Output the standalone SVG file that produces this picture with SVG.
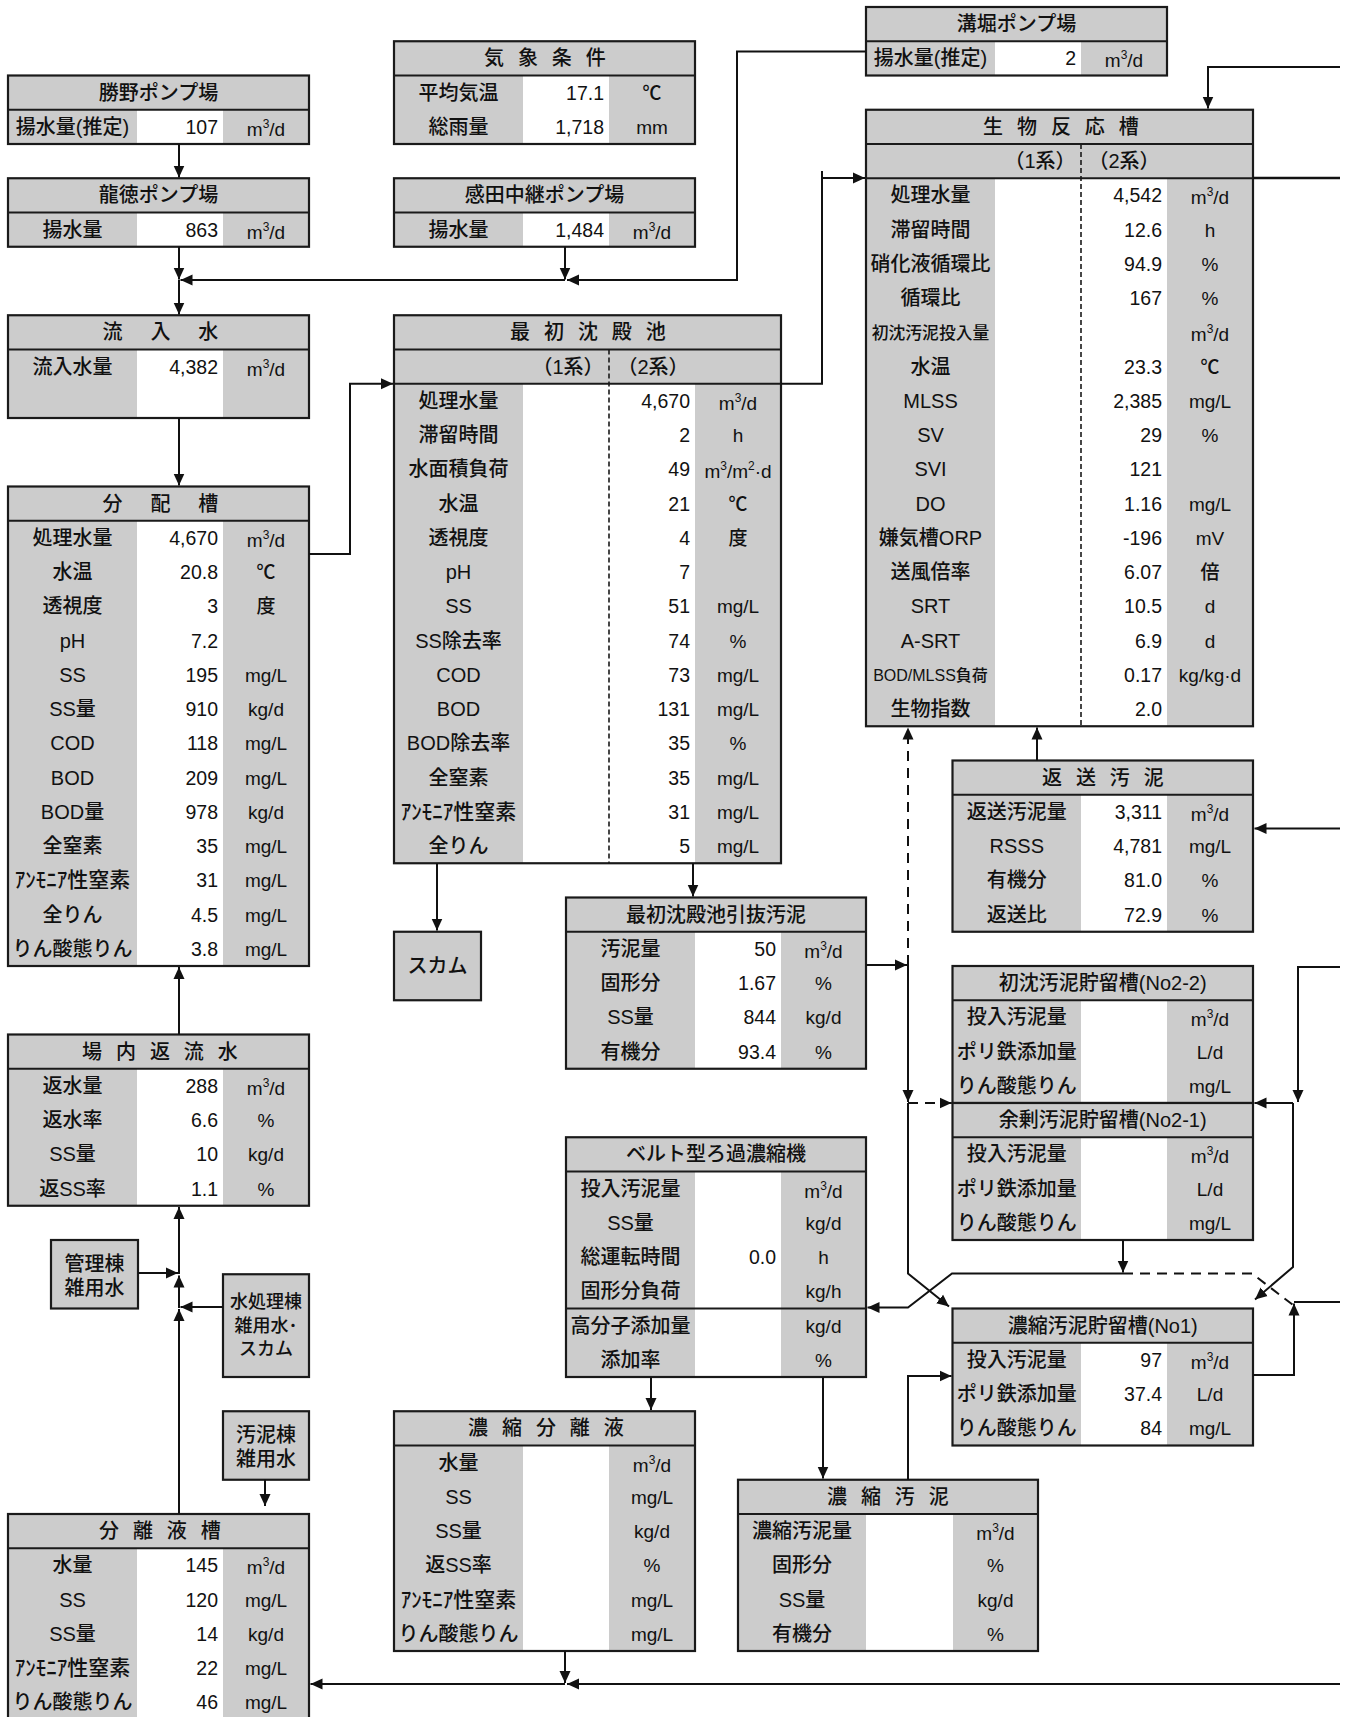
<svg xmlns="http://www.w3.org/2000/svg" width="1346" height="1717" viewBox="0 0 1346 1717">
<defs>
<style>
text{font-family:"Liberation Sans","Noto Sans CJK JP",sans-serif;font-size:20px;fill:#111;font-weight:500}
.c{text-anchor:middle}
.r{text-anchor:end}
.n{font-size:19.5px}
.u{font-size:19px;text-anchor:middle}
.sp{font-size:12px}
.sm{font-size:16.8px}
.sm2{font-size:16px}
.ak{font-size:21px}
.g{fill:#cccccc}
.w{fill:#ffffff}
.bd{fill:none;stroke:#1a1a1a;stroke-width:2.2}
.hl{stroke:#1a1a1a;stroke-width:2.2}
.dv{stroke:#1a1a1a;stroke-width:1.6;stroke-dasharray:5 3}
.cn{fill:none;stroke:#111;stroke-width:2}
.ds{stroke-dasharray:10 7}
.s4{letter-spacing:4.2px}
.s11{letter-spacing:11.2px}
.f18{font-size:18px}
</style>
<marker id="ah" markerUnits="userSpaceOnUse" markerWidth="13" markerHeight="12" refX="12" refY="6" orient="auto" viewBox="0 0 13 12">
<path d="M0,0.5 L12,6 L0,11.5 z" fill="#111"/>
</marker>
</defs>
<rect width="1346" height="1717" fill="#ffffff"/>

<g id="katsuno-pump">
<rect class="g" x="8" y="75.5" width="301" height="68.5"/>
<rect class="w" x="137" y="109.75" width="86" height="34.25"/>
<rect class="bd" x="8" y="75.5" width="301" height="68.5"/>
<line class="hl" x1="8" y1="109.75" x2="309" y2="109.75"/>
<text class="c" x="158.5" y="99.5">勝野ポンプ場</text>
<text class="c" x="72.5" y="133.75">揚水量(推定)</text>
<text class="n r" x="218" y="133.75">107</text>
<text class="u" x="266" y="135.75">m<tspan class="sp" dy="-8">3</tspan><tspan dy="8">/d</tspan></text>
</g>

<g id="ryutoku-pump">
<rect class="g" x="8" y="178.25" width="301" height="68.5"/>
<rect class="w" x="137" y="212.5" width="86" height="34.25"/>
<rect class="bd" x="8" y="178.25" width="301" height="68.5"/>
<line class="hl" x1="8" y1="212.5" x2="309" y2="212.5"/>
<text class="c" x="158.5" y="202.25">龍徳ポンプ場</text>
<text class="c" x="72.5" y="236.5">揚水量</text>
<text class="n r" x="218" y="236.5">863</text>
<text class="u" x="266" y="238.5">m<tspan class="sp" dy="-8">3</tspan><tspan dy="8">/d</tspan></text>
</g>

<g id="inflow">
<rect class="g" x="8" y="315.25" width="301" height="102.75"/>
<rect class="w" x="137" y="349.5" width="86" height="68.5"/>
<rect class="bd" x="8" y="315.25" width="301" height="102.75"/>
<line class="hl" x1="8" y1="349.5" x2="309" y2="349.5"/>
<text class="c s11" x="166" y="339.25">流 入 水</text>
<text class="c" x="72.5" y="373.5">流入水量</text>
<text class="n r" x="218" y="373.5">4,382</text>
<text class="u" x="266" y="375.5">m<tspan class="sp" dy="-8">3</tspan><tspan dy="8">/d</tspan></text>
</g>

<g id="distribution-tank">
<rect class="g" x="8" y="486.5" width="301" height="479.5"/>
<rect class="w" x="137" y="520.75" width="86" height="445.25"/>
<rect class="bd" x="8" y="486.5" width="301" height="479.5"/>
<line class="hl" x1="8" y1="520.75" x2="309" y2="520.75"/>
<text class="c s11" x="166" y="510.5">分 配 槽</text>
<text class="c" x="72.5" y="544.75">処理水量</text><text class="n r" x="218" y="544.75">4,670</text><text class="u" x="266" y="546.75">m<tspan class="sp" dy="-8">3</tspan><tspan dy="8">/d</tspan></text>
<text class="c" x="72.5" y="579">水温</text><text class="n r" x="218" y="579">20.8</text><text class="u" x="266" y="579">℃</text>
<text class="c" x="72.5" y="613.25">透視度</text><text class="n r" x="218" y="613.25">3</text><text class="u" x="266" y="613.25">度</text>
<text class="c" x="72.5" y="647.5">pH</text><text class="n r" x="218" y="647.5">7.2</text>
<text class="c" x="72.5" y="681.75">SS</text><text class="n r" x="218" y="681.75">195</text><text class="u" x="266" y="681.75">mg/L</text>
<text class="c" x="72.5" y="716">SS量</text><text class="n r" x="218" y="716">910</text><text class="u" x="266" y="716">kg/d</text>
<text class="c" x="72.5" y="750.25">COD</text><text class="n r" x="218" y="750.25">118</text><text class="u" x="266" y="750.25">mg/L</text>
<text class="c" x="72.5" y="784.5">BOD</text><text class="n r" x="218" y="784.5">209</text><text class="u" x="266" y="784.5">mg/L</text>
<text class="c" x="72.5" y="818.75">BOD量</text><text class="n r" x="218" y="818.75">978</text><text class="u" x="266" y="818.75">kg/d</text>
<text class="c" x="72.5" y="853">全窒素</text><text class="n r" x="218" y="853">35</text><text class="u" x="266" y="853">mg/L</text>
<text class="c ak" x="72.5" y="887.25">ｱﾝﾓﾆｱ性窒素</text><text class="n r" x="218" y="887.25">31</text><text class="u" x="266" y="887.25">mg/L</text>
<text class="c" x="72.5" y="921.5">全りん</text><text class="n r" x="218" y="921.5">4.5</text><text class="u" x="266" y="921.5">mg/L</text>
<text class="c" x="72.5" y="955.75">りん酸態りん</text><text class="n r" x="218" y="955.75">3.8</text><text class="u" x="266" y="955.75">mg/L</text>
</g>

<g id="return-water">
<rect class="g" x="8" y="1034.5" width="301" height="171.25"/>
<rect class="w" x="137" y="1068.75" width="86" height="137"/>
<rect class="bd" x="8" y="1034.5" width="301" height="171.25"/>
<line class="hl" x1="8" y1="1068.75" x2="309" y2="1068.75"/>
<text class="c s4" x="162" y="1058.5">場 内 返 流 水</text>
<text class="c" x="72.5" y="1092.75">返水量</text><text class="n r" x="218" y="1092.75">288</text><text class="u" x="266" y="1094.75">m<tspan class="sp" dy="-8">3</tspan><tspan dy="8">/d</tspan></text>
<text class="c" x="72.5" y="1127">返水率</text><text class="n r" x="218" y="1127">6.6</text><text class="u" x="266" y="1127">%</text>
<text class="c" x="72.5" y="1161.25">SS量</text><text class="n r" x="218" y="1161.25">10</text><text class="u" x="266" y="1161.25">kg/d</text>
<text class="c" x="72.5" y="1195.5">返SS率</text><text class="n r" x="218" y="1195.5">1.1</text><text class="u" x="266" y="1195.5">%</text>
</g>

<g id="admin-water">
<rect class="g" x="51" y="1240" width="87" height="68.5"/>
<rect class="bd" x="51" y="1240" width="87" height="68.5"/>
<text class="c" x="94.5" y="1270.5">管理棟</text>
<text class="c" x="94.5" y="1294.5">雑用水</text>
</g>

<g id="treatment-water">
<rect class="g" x="223" y="1274.25" width="86" height="102.75"/>
<rect class="bd" x="223" y="1274.25" width="86" height="102.75"/>
<text class="c f18" x="266" y="1308">水処理棟</text>
<text class="c f18" x="266" y="1331.5">雑用水･</text>
<text class="c f18" x="266" y="1355">スカム</text>
</g>

<g id="sludge-water">
<rect class="g" x="223" y="1411.25" width="86" height="68.5"/>
<rect class="bd" x="223" y="1411.25" width="86" height="68.5"/>
<text class="c" x="266" y="1442">汚泥棟</text>
<text class="c" x="266" y="1465.5">雑用水</text>
</g>

<g id="separation-tank">
<rect class="g" x="8" y="1514" width="301" height="205.5"/>
<rect class="w" x="137" y="1548.25" width="86" height="171.25"/>
<rect class="bd" x="8" y="1514" width="301" height="205.5"/>
<line class="hl" x1="8" y1="1548.25" x2="309" y2="1548.25"/>
<text class="c s4" x="162" y="1538">分 離 液 槽</text>
<text class="c" x="72.5" y="1572.25">水量</text><text class="n r" x="218" y="1572.25">145</text><text class="u" x="266" y="1574.25">m<tspan class="sp" dy="-8">3</tspan><tspan dy="8">/d</tspan></text>
<text class="c" x="72.5" y="1606.5">SS</text><text class="n r" x="218" y="1606.5">120</text><text class="u" x="266" y="1606.5">mg/L</text>
<text class="c" x="72.5" y="1640.75">SS量</text><text class="n r" x="218" y="1640.75">14</text><text class="u" x="266" y="1640.75">kg/d</text>
<text class="c ak" x="72.5" y="1675">ｱﾝﾓﾆｱ性窒素</text><text class="n r" x="218" y="1675">22</text><text class="u" x="266" y="1675">mg/L</text>
<text class="c" x="72.5" y="1709.25">りん酸態りん</text><text class="n r" x="218" y="1709.25">46</text><text class="u" x="266" y="1709.25">mg/L</text>
</g>

<g id="weather">
<rect class="g" x="394" y="41.25" width="301" height="102.75"/>
<rect class="w" x="523" y="75.5" width="86" height="68.5"/>
<rect class="bd" x="394" y="41.25" width="301" height="102.75"/>
<line class="hl" x1="394" y1="75.5" x2="695" y2="75.5"/>
<text class="c s4" x="547" y="65.25">気 象 条 件</text>
<text class="c" x="458.5" y="99.5">平均気温</text><text class="n r" x="604" y="99.5">17.1</text><text class="u" x="652" y="99.5">℃</text>
<text class="c" x="458.5" y="133.75">総雨量</text><text class="n r" x="604" y="133.75">1,718</text><text class="u" x="652" y="133.75">mm</text>
</g>

<g id="kanda-pump">
<rect class="g" x="394" y="178.25" width="301" height="68.5"/>
<rect class="w" x="523" y="212.5" width="86" height="34.25"/>
<rect class="bd" x="394" y="178.25" width="301" height="68.5"/>
<line class="hl" x1="394" y1="212.5" x2="695" y2="212.5"/>
<text class="c" x="544.5" y="202.25">感田中継ポンプ場</text>
<text class="c" x="458.5" y="236.5">揚水量</text><text class="n r" x="604" y="236.5">1,484</text><text class="u" x="652" y="238.5">m<tspan class="sp" dy="-8">3</tspan><tspan dy="8">/d</tspan></text>
</g>

<g id="primary-clarifier">
<rect class="g" x="394" y="315.25" width="387" height="548"/>
<rect class="w" x="523" y="383.75" width="172" height="479.5"/>
<rect class="bd" x="394" y="315.25" width="387" height="548"/>
<line class="hl" x1="394" y1="349.5" x2="781" y2="349.5"/>
<line class="hl" x1="394" y1="383.75" x2="781" y2="383.75"/>
<line class="dv" x1="609" y1="349.5" x2="609" y2="863.25"/>
<text class="c s4" x="590" y="339.25">最 初 沈 殿 池</text>
<text class="c" x="568" y="373.5">（1系）</text>
<text class="c" x="653" y="373.5">（2系）</text>
<text class="c" x="458.5" y="407.75">処理水量</text><text class="n r" x="690" y="407.75">4,670</text><text class="u" x="738" y="409.75">m<tspan class="sp" dy="-8">3</tspan><tspan dy="8">/d</tspan></text>
<text class="c" x="458.5" y="442">滞留時間</text><text class="n r" x="690" y="442">2</text><text class="u" x="738" y="442">h</text>
<text class="c" x="458.5" y="476.25">水面積負荷</text><text class="n r" x="690" y="476.25">49</text><text class="u" x="738" y="478.25">m<tspan class="sp" dy="-8">3</tspan><tspan dy="8">/m</tspan><tspan class="sp" dy="-8">2</tspan><tspan dy="8">·d</tspan></text>
<text class="c" x="458.5" y="510.5">水温</text><text class="n r" x="690" y="510.5">21</text><text class="u" x="738" y="510.5">℃</text>
<text class="c" x="458.5" y="544.75">透視度</text><text class="n r" x="690" y="544.75">4</text><text class="u" x="738" y="544.75">度</text>
<text class="c" x="458.5" y="579">pH</text><text class="n r" x="690" y="579">7</text>
<text class="c" x="458.5" y="613.25">SS</text><text class="n r" x="690" y="613.25">51</text><text class="u" x="738" y="613.25">mg/L</text>
<text class="c" x="458.5" y="647.5">SS除去率</text><text class="n r" x="690" y="647.5">74</text><text class="u" x="738" y="647.5">%</text>
<text class="c" x="458.5" y="681.75">COD</text><text class="n r" x="690" y="681.75">73</text><text class="u" x="738" y="681.75">mg/L</text>
<text class="c" x="458.5" y="716">BOD</text><text class="n r" x="690" y="716">131</text><text class="u" x="738" y="716">mg/L</text>
<text class="c" x="458.5" y="750.25">BOD除去率</text><text class="n r" x="690" y="750.25">35</text><text class="u" x="738" y="750.25">%</text>
<text class="c" x="458.5" y="784.5">全窒素</text><text class="n r" x="690" y="784.5">35</text><text class="u" x="738" y="784.5">mg/L</text>
<text class="c ak" x="458.5" y="818.75">ｱﾝﾓﾆｱ性窒素</text><text class="n r" x="690" y="818.75">31</text><text class="u" x="738" y="818.75">mg/L</text>
<text class="c" x="458.5" y="853">全りん</text><text class="n r" x="690" y="853">5</text><text class="u" x="738" y="853">mg/L</text>
</g>

<g id="scum">
<rect class="g" x="394" y="931.75" width="87" height="68.5"/>
<rect class="bd" x="394" y="931.75" width="87" height="68.5"/>
<text class="c" x="437.5" y="973">スカム</text>
</g>

<g id="primary-sludge">
<rect class="g" x="566" y="897.5" width="300" height="171.25"/>
<rect class="w" x="695" y="931.75" width="86" height="137"/>
<rect class="bd" x="566" y="897.5" width="300" height="171.25"/>
<line class="hl" x1="566" y1="931.75" x2="866" y2="931.75"/>
<text class="c" x="716" y="921.5">最初沈殿池引抜汚泥</text>
<text class="c" x="630.5" y="955.75">汚泥量</text><text class="n r" x="776" y="955.75">50</text><text class="u" x="823.5" y="957.75">m<tspan class="sp" dy="-8">3</tspan><tspan dy="8">/d</tspan></text>
<text class="c" x="630.5" y="990">固形分</text><text class="n r" x="776" y="990">1.67</text><text class="u" x="823.5" y="990">%</text>
<text class="c" x="630.5" y="1024.25">SS量</text><text class="n r" x="776" y="1024.25">844</text><text class="u" x="823.5" y="1024.25">kg/d</text>
<text class="c" x="630.5" y="1058.5">有機分</text><text class="n r" x="776" y="1058.5">93.4</text><text class="u" x="823.5" y="1058.5">%</text>
</g>

<g id="belt-thickener">
<rect class="g" x="566" y="1137.25" width="300" height="239.75"/>
<rect class="w" x="695" y="1171.5" width="86" height="205.5"/>
<rect class="bd" x="566" y="1137.25" width="300" height="239.75"/>
<line class="hl" x1="566" y1="1171.5" x2="866" y2="1171.5"/>
<line class="hl" x1="566" y1="1308.5" x2="866" y2="1308.5"/>
<text class="c" x="716" y="1161.25">ベルト型ろ過濃縮機</text>
<text class="c" x="630.5" y="1195.5">投入汚泥量</text><text class="u" x="823.5" y="1197.5">m<tspan class="sp" dy="-8">3</tspan><tspan dy="8">/d</tspan></text>
<text class="c" x="630.5" y="1229.75">SS量</text><text class="u" x="823.5" y="1229.75">kg/d</text>
<text class="c" x="630.5" y="1264">総運転時間</text><text class="n r" x="776" y="1264">0.0</text><text class="u" x="823.5" y="1264">h</text>
<text class="c" x="630.5" y="1298.25">固形分負荷</text><text class="u" x="823.5" y="1298.25">kg/h</text>
<text class="c" x="630.5" y="1332.5">高分子添加量</text><text class="u" x="823.5" y="1332.5">kg/d</text>
<text class="c" x="630.5" y="1366.75">添加率</text><text class="u" x="823.5" y="1366.75">%</text>
</g>

<g id="thickened-filtrate">
<rect class="g" x="394" y="1411.25" width="301" height="239.75"/>
<rect class="w" x="523" y="1445.5" width="86" height="205.5"/>
<rect class="bd" x="394" y="1411.25" width="301" height="239.75"/>
<line class="hl" x1="394" y1="1445.5" x2="695" y2="1445.5"/>
<text class="c s4" x="548" y="1435.25">濃 縮 分 離 液</text>
<text class="c" x="458.5" y="1469.5">水量</text><text class="u" x="652" y="1471.5">m<tspan class="sp" dy="-8">3</tspan><tspan dy="8">/d</tspan></text>
<text class="c" x="458.5" y="1503.75">SS</text><text class="u" x="652" y="1503.75">mg/L</text>
<text class="c" x="458.5" y="1538">SS量</text><text class="u" x="652" y="1538">kg/d</text>
<text class="c" x="458.5" y="1572.25">返SS率</text><text class="u" x="652" y="1572.25">%</text>
<text class="c ak" x="458.5" y="1606.5">ｱﾝﾓﾆｱ性窒素</text><text class="u" x="652" y="1606.5">mg/L</text>
<text class="c" x="458.5" y="1640.75">りん酸態りん</text><text class="u" x="652" y="1640.75">mg/L</text>
</g>

<g id="thickened-sludge">
<rect class="g" x="738" y="1479.75" width="300" height="171.25"/>
<rect class="w" x="866" y="1514" width="87" height="137"/>
<rect class="bd" x="738" y="1479.75" width="300" height="171.25"/>
<line class="hl" x1="738" y1="1514" x2="1038" y2="1514"/>
<text class="c s4" x="890" y="1503.75">濃 縮 汚 泥</text>
<text class="c" x="802" y="1538">濃縮汚泥量</text><text class="u" x="995.5" y="1540">m<tspan class="sp" dy="-8">3</tspan><tspan dy="8">/d</tspan></text>
<text class="c" x="802" y="1572.25">固形分</text><text class="u" x="995.5" y="1572.25">%</text>
<text class="c" x="802" y="1606.5">SS量</text><text class="u" x="995.5" y="1606.5">kg/d</text>
<text class="c" x="802" y="1640.75">有機分</text><text class="u" x="995.5" y="1640.75">%</text>
</g>

<g id="mizohori-pump">
<rect class="g" x="866" y="7" width="301" height="68.5"/>
<rect class="w" x="995" y="41.25" width="86" height="34.25"/>
<rect class="bd" x="866" y="7" width="301" height="68.5"/>
<line class="hl" x1="866" y1="41.25" x2="1167" y2="41.25"/>
<text class="c" x="1016.5" y="31">溝堀ポンプ場</text>
<text class="c" x="930.5" y="65.25">揚水量(推定)</text><text class="n r" x="1076" y="65.25">2</text><text class="u" x="1124" y="67.25">m<tspan class="sp" dy="-8">3</tspan><tspan dy="8">/d</tspan></text>
</g>

<g id="bioreactor">
<rect class="g" x="866" y="109.75" width="387" height="616.5"/>
<rect class="w" x="995" y="178.25" width="172" height="548"/>
<rect class="bd" x="866" y="109.75" width="387" height="616.5"/>
<line class="hl" x1="866" y1="144" x2="1253" y2="144"/>
<line class="hl" x1="866" y1="178.25" x2="1253" y2="178.25"/>
<line class="dv" x1="1081" y1="144" x2="1081" y2="726.25"/>
<text class="c s4" x="1063" y="133.75">生 物 反 応 槽</text>
<text class="c" x="1040" y="168">（1系）</text>
<text class="c" x="1124" y="168">（2系）</text>
<text class="c" x="930.5" y="202.25">処理水量</text><text class="n r" x="1162" y="202.25">4,542</text><text class="u" x="1210" y="204.25">m<tspan class="sp" dy="-8">3</tspan><tspan dy="8">/d</tspan></text>
<text class="c" x="930.5" y="236.5">滞留時間</text><text class="n r" x="1162" y="236.5">12.6</text><text class="u" x="1210" y="236.5">h</text>
<text class="c" x="930.5" y="270.75">硝化液循環比</text><text class="n r" x="1162" y="270.75">94.9</text><text class="u" x="1210" y="270.75">%</text>
<text class="c" x="930.5" y="305">循環比</text><text class="n r" x="1162" y="305">167</text><text class="u" x="1210" y="305">%</text>
<text class="c sm" x="930.5" y="338.5">初沈汚泥投入量</text><text class="u" x="1210" y="341.25">m<tspan class="sp" dy="-8">3</tspan><tspan dy="8">/d</tspan></text>
<text class="c" x="930.5" y="373.5">水温</text><text class="n r" x="1162" y="373.5">23.3</text><text class="u" x="1210" y="373.5">℃</text>
<text class="c" x="930.5" y="407.75">MLSS</text><text class="n r" x="1162" y="407.75">2,385</text><text class="u" x="1210" y="407.75">mg/L</text>
<text class="c" x="930.5" y="442">SV</text><text class="n r" x="1162" y="442">29</text><text class="u" x="1210" y="442">%</text>
<text class="c" x="930.5" y="476.25">SVI</text><text class="n r" x="1162" y="476.25">121</text>
<text class="c" x="930.5" y="510.5">DO</text><text class="n r" x="1162" y="510.5">1.16</text><text class="u" x="1210" y="510.5">mg/L</text>
<text class="c" x="930.5" y="544.75">嫌気槽ORP</text><text class="n r" x="1162" y="544.75">-196</text><text class="u" x="1210" y="544.75">mV</text>
<text class="c" x="930.5" y="579">送風倍率</text><text class="n r" x="1162" y="579">6.07</text><text class="u" x="1210" y="579">倍</text>
<text class="c" x="930.5" y="613.25">SRT</text><text class="n r" x="1162" y="613.25">10.5</text><text class="u" x="1210" y="613.25">d</text>
<text class="c" x="930.5" y="647.5">A-SRT</text><text class="n r" x="1162" y="647.5">6.9</text><text class="u" x="1210" y="647.5">d</text>
<text class="c sm2" x="930.5" y="681">BOD/MLSS負荷</text><text class="n r" x="1162" y="681.75">0.17</text><text class="u" x="1210" y="681.75">kg/kg·d</text>
<text class="c" x="930.5" y="716">生物指数</text><text class="n r" x="1162" y="716">2.0</text>
</g>

<g id="return-sludge">
<rect class="g" x="952.5" y="760.5" width="300.5" height="171.25"/>
<rect class="w" x="1081" y="794.75" width="86" height="137"/>
<rect class="bd" x="952.5" y="760.5" width="300.5" height="171.25"/>
<line class="hl" x1="952.5" y1="794.75" x2="1253" y2="794.75"/>
<text class="c s4" x="1105" y="784.5">返 送 汚 泥</text>
<text class="c" x="1016.75" y="818.75">返送汚泥量</text><text class="n r" x="1162" y="818.75">3,311</text><text class="u" x="1210" y="820.75">m<tspan class="sp" dy="-8">3</tspan><tspan dy="8">/d</tspan></text>
<text class="c" x="1016.75" y="853">RSSS</text><text class="n r" x="1162" y="853">4,781</text><text class="u" x="1210" y="853">mg/L</text>
<text class="c" x="1016.75" y="887.25">有機分</text><text class="n r" x="1162" y="887.25">81.0</text><text class="u" x="1210" y="887.25">%</text>
<text class="c" x="1016.75" y="921.5">返送比</text><text class="n r" x="1162" y="921.5">72.9</text><text class="u" x="1210" y="921.5">%</text>
</g>

<g id="primary-sludge-storage">
<rect class="g" x="952.5" y="966" width="300.5" height="137"/>
<rect class="w" x="1081" y="1000.25" width="86" height="102.75"/>
<rect class="bd" x="952.5" y="966" width="300.5" height="137"/>
<line class="hl" x1="952.5" y1="1000.25" x2="1253" y2="1000.25"/>
<text class="c" x="1102.75" y="990">初沈汚泥貯留槽(No2-2)</text>
<text class="c" x="1016.75" y="1024.25">投入汚泥量</text><text class="u" x="1210" y="1026.25">m<tspan class="sp" dy="-8">3</tspan><tspan dy="8">/d</tspan></text>
<text class="c" x="1016.75" y="1058.5">ポリ鉄添加量</text><text class="u" x="1210" y="1058.5">L/d</text>
<text class="c" x="1016.75" y="1092.75">りん酸態りん</text><text class="u" x="1210" y="1092.75">mg/L</text>
</g>

<g id="excess-sludge-storage">
<rect class="g" x="952.5" y="1103" width="300.5" height="137"/>
<rect class="w" x="1081" y="1137.25" width="86" height="102.75"/>
<rect class="bd" x="952.5" y="1103" width="300.5" height="137"/>
<line class="hl" x1="952.5" y1="1137.25" x2="1253" y2="1137.25"/>
<text class="c" x="1102.75" y="1127">余剰汚泥貯留槽(No2-1)</text>
<text class="c" x="1016.75" y="1161.25">投入汚泥量</text><text class="u" x="1210" y="1163.25">m<tspan class="sp" dy="-8">3</tspan><tspan dy="8">/d</tspan></text>
<text class="c" x="1016.75" y="1195.5">ポリ鉄添加量</text><text class="u" x="1210" y="1195.5">L/d</text>
<text class="c" x="1016.75" y="1229.75">りん酸態りん</text><text class="u" x="1210" y="1229.75">mg/L</text>
</g>

<g id="thickened-sludge-storage">
<rect class="g" x="952.5" y="1308.5" width="300.5" height="137"/>
<rect class="w" x="1081" y="1342.75" width="86" height="102.75"/>
<rect class="bd" x="952.5" y="1308.5" width="300.5" height="137"/>
<line class="hl" x1="952.5" y1="1342.75" x2="1253" y2="1342.75"/>
<text class="c" x="1102.75" y="1332.5">濃縮汚泥貯留槽(No1)</text>
<text class="c" x="1016.75" y="1366.75">投入汚泥量</text><text class="n r" x="1162" y="1366.75">97</text><text class="u" x="1210" y="1368.75">m<tspan class="sp" dy="-8">3</tspan><tspan dy="8">/d</tspan></text>
<text class="c" x="1016.75" y="1401">ポリ鉄添加量</text><text class="n r" x="1162" y="1401">37.4</text><text class="u" x="1210" y="1401">L/d</text>
<text class="c" x="1016.75" y="1435.25">りん酸態りん</text><text class="n r" x="1162" y="1435.25">84</text><text class="u" x="1210" y="1435.25">mg/L</text>
</g>

<g id="connectors" class="cn">
<path d="M179,144V177.5" marker-end="url(#ah)"/>
<path d="M179,246.75V279.5" marker-end="url(#ah)"/>
<path d="M179,280V314.5" marker-end="url(#ah)"/>
<path d="M565,246.75V279.5" marker-end="url(#ah)"/>
<path d="M866,51.5H737V280H567" marker-end="url(#ah)"/>
<path d="M565,280H180.5" marker-end="url(#ah)"/>
<path d="M179,418V485.5" marker-end="url(#ah)"/>
<path d="M309,554H350V383.75H393" marker-end="url(#ah)"/>
<path d="M781,383.75H822V178H865" marker-end="url(#ah)"/>
<path d="M822,178V171"/>
<path d="M1340,67H1208V108.5" marker-end="url(#ah)"/>
<path d="M1253,178H1340" style="stroke-width:2.6"/>
<path d="M437,863.25V930.5" marker-end="url(#ah)"/>
<path d="M693,863.25V896.5" marker-end="url(#ah)"/>
<path d="M1037,760.5V727.5" marker-end="url(#ah)"/>
<path d="M1340,828.5H1254.5" marker-end="url(#ah)"/>
<path class="ds" d="M908,965V727.5" marker-end="url(#ah)"/>
<path d="M866,965H907" marker-end="url(#ah)"/>
<path d="M908,965V1102" marker-end="url(#ah)"/>
<path class="ds" d="M908,1103H951.5" marker-end="url(#ah)"/>
<path d="M908,1103V1273.5L949,1306.5" marker-end="url(#ah)"/>
<path d="M1123,1240V1272.5" marker-end="url(#ah)"/>
<path d="M1123,1273.5H952L908,1307.5H867.5" marker-end="url(#ah)"/>
<path class="ds" d="M1123,1273.5H1252L1293,1305"/>
<path d="M1340,967H1298V1102" marker-end="url(#ah)"/>
<path d="M1293,1103V1267L1255,1299.5" marker-end="url(#ah)"/>
<path d="M1293,1103H1254.5" marker-end="url(#ah)"/>
<path d="M1253,1375H1294V1303.5" marker-end="url(#ah)"/>
<path d="M1294,1302H1340"/>
<path d="M651,1377V1410" marker-end="url(#ah)"/>
<path d="M823,1377V1478.5" marker-end="url(#ah)"/>
<path d="M908,1479.75V1376H951.5" marker-end="url(#ah)"/>
<path d="M565,1651V1683" marker-end="url(#ah)"/>
<path d="M1340,1684H567" marker-end="url(#ah)"/>
<path d="M565,1684H310.5" marker-end="url(#ah)"/>
<path d="M265,1479.75V1506" marker-end="url(#ah)"/>
<path d="M179,1514V1309" marker-end="url(#ah)"/>
<path d="M179,1308V1275.5" marker-end="url(#ah)"/>
<path d="M179,1274V1207" marker-end="url(#ah)"/>
<path d="M138,1273H178" marker-end="url(#ah)"/>
<path d="M223,1307H180.5" marker-end="url(#ah)"/>
<path d="M179,1034.5V967" marker-end="url(#ah)"/>
</g>
</svg>
